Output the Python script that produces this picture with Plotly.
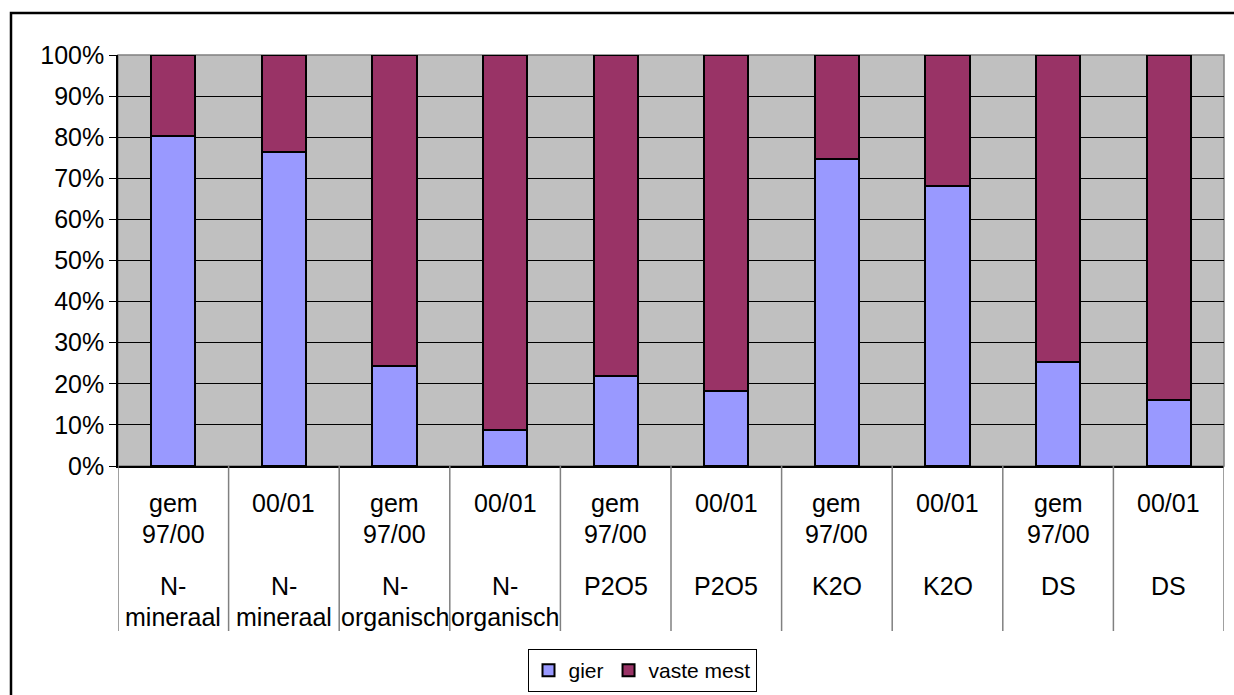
import plotly.graph_objects as go

periods = ["gem\n97/00", "00/01", "gem\n97/00", "00/01", "gem\n97/00",
           "00/01", "gem\n97/00", "00/01", "gem\n97/00", "00/01"]
nutrients = ["N-\nmineraal", "N-\nmineraal", "N-\norganisch", "N-\norganisch", "P2O5",
             "P2O5", "K2O", "K2O", "DS", "DS"]
gier = [80.3, 76.5, 24.4, 8.7, 21.9, 18.2, 74.6, 68.1, 25.2, 16.1]
vaste_mest = [100 - v for v in gier]
y_ticks = list(range(0, 101, 10))

W, H = 1234, 695
L, R, T, B = 118, 1224, 55, 466
PH = B - T
FONT = "Liberation Sans, Arial, sans-serif"
FS = 25

def py(pix):
    return (B - pix) / PH

def px_(pix):
    return (pix - L) / (R - L)

x = list(range(len(gier)))

fig = go.Figure()
fig.add_trace(go.Bar(x=x, y=gier, name="gier", width=0.4,
                     marker=dict(color="#9999FF", line=dict(color="black", width=2))))
fig.add_trace(go.Bar(x=x, y=vaste_mest, name="vaste mest", width=0.4,
                     marker=dict(color="#993366", line=dict(color="black", width=2))))

annotations = []
for i, (p, n) in enumerate(zip(periods, nutrients)):
    for k, line in enumerate(p.split("\n")):
        annotations.append(dict(x=i, xref="x", y=py(503 + 31 * k), yref="paper",
                                text=line, showarrow=False, yanchor="middle",
                                font=dict(family=FONT, size=FS, color="black")))
    for k, line in enumerate(n.split("\n")):
        annotations.append(dict(x=i, xref="x", y=py(586 + 31 * k), yref="paper",
                                text=line, showarrow=False, yanchor="middle",
                                font=dict(family=FONT, size=FS, color="black")))

shapes = []
for i in range(len(gier) + 1):
    shapes.append(dict(type="line", xref="x", yref="paper", x0=i - 0.5, x1=i - 0.5,
                       y0=0, y1=py(631), line=dict(color="#808080", width=1.5)))
# plot area border (gray)
shapes.append(dict(type="rect", xref="paper", yref="paper", x0=0, x1=1, y0=0, y1=1,
                   line=dict(color="#808080", width=1.5), layer="below"))
# outer chart border
shapes.append(dict(type="rect", xref="paper", yref="paper",
                   x0=px_(11), x1=px_(1245), y0=py(705), y1=py(13),
                   line=dict(color="black", width=2.5)))

fig.update_layout(
    width=W, height=H,
    barmode="stack",
    paper_bgcolor="white",
    plot_bgcolor="#C0C0C0",
    margin=dict(l=L, r=W - R, t=T, b=H - B, pad=0, autoexpand=False),
    font=dict(family=FONT, size=FS, color="black"),
    xaxis=dict(range=[-0.5, len(gier) - 0.5], showticklabels=False, showgrid=False,
               zeroline=False, showline=True, linecolor="black", linewidth=1.5,
               ticks=""),
    yaxis=dict(range=[0, 100], tickvals=y_ticks, ticktext=[f"{v}%" for v in y_ticks],
               showgrid=True, gridcolor="#000000", gridwidth=1, zeroline=False,
               showline=True, linecolor="#000000", linewidth=1.5,
               ticks="outside", ticklen=7, tickcolor="black",
               tickfont=dict(family=FONT, size=FS, color="black")),
    showlegend=True,
    legend=dict(orientation="h", x=px_(642), xanchor="center", y=py(692), yanchor="bottom",
                bordercolor="black", borderwidth=1, bgcolor="white",
                font=dict(family=FONT, size=21, color="black"),
                itemwidth=30, tracegroupgap=0, traceorder="normal"),
    annotations=annotations,
    shapes=shapes,
    bargap=0.6,
)

fig.write_html("out.html", config={"displayModeBar": False},
               post_script="document.body.style.margin='0';document.body.style.overflow='hidden';")
